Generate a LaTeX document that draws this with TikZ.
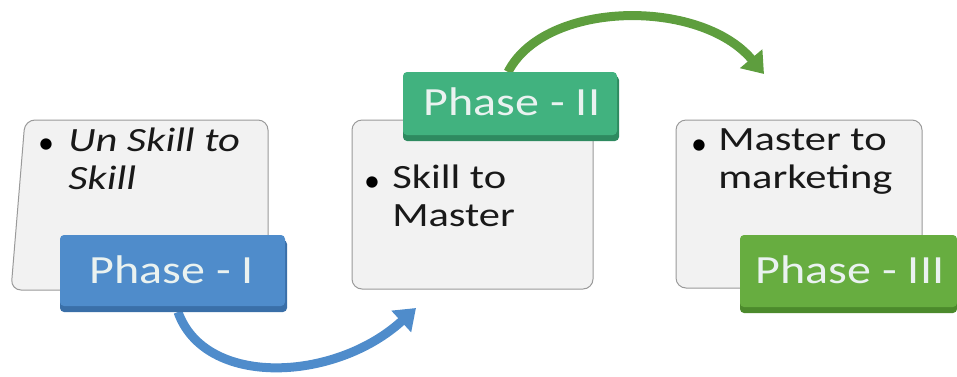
\documentclass[tikz,border=0pt]{standalone}
\usepackage{fontspec}
\setmainfont{Carlito}
\usetikzlibrary{arrows.meta}
\definecolor{pblue}{HTML}{4F8CCB}
\definecolor{pbluedk}{HTML}{3A6FA8}
\definecolor{pteal}{HTML}{41B27F}
\definecolor{ptealdk}{HTML}{2E8A60}
\definecolor{pgreen}{HTML}{67AD40}
\definecolor{pgreendk}{HTML}{4C8A2C}
\definecolor{parrow}{HTML}{5E9E3E}
\definecolor{boxfill}{HTML}{F2F2F2}
\definecolor{boxedge}{HTML}{9A9A9A}
\definecolor{ptext}{HTML}{EAF2F0}
\tikzset{
  card/.style={fill=boxfill, draw=boxedge, line width=1pt, rounded corners=10pt},
  phasetxt/.style={font=\fontsize{40}{44}\selectfont, text=ptext, inner sep=0pt, xscale=1.2},
  bodytxt/.style={font=\fontsize{34}{38}\selectfont, text=black!90, inner sep=0pt, align=left, anchor=north west, xscale=1.25},
  bul/.style={font=\fontsize{32}{32}\selectfont, text=black, inner sep=0pt},
  bigarrow/.style={line width=9pt, -{Triangle[length=20pt,width=28pt]}}
}
\begin{document}
\begin{tikzpicture}[x=1pt,y=-1pt]
\useasboundingbox (0,0) rectangle (957,376);
% card 1
\draw[card] (25,120) -- (268,120) -- (268,290) -- (11,290) -- cycle;
% connectors
\coordinate (a1s) at (178,312);
\coordinate (a1e) at (416,308);
\coordinate (a2s) at (508,72);
\coordinate (a2e) at (764,74);
\draw[bigarrow, draw=pblue] (a1s) .. controls (205,388) and (335,382) .. (a1e);
\draw[bigarrow, draw=parrow] (a2s) .. controls (545,0) and (700,-2) .. (a2e);
% card 2 and 3
\draw[card] (352,120) rectangle (593,289);
\draw[card] (676,120) rectangle (922,288);
% phase boxes
\fill[pbluedk, rounded corners=4pt] (60,240) rectangle (287,312);
\fill[pblue, rounded corners=4pt] (60,235) rectangle (285,306);
\node[phasetxt] (p1) at (172,270) {Phase - I};
\fill[ptealdk, rounded corners=4pt] (403,76) rectangle (619,141);
\fill[pteal, rounded corners=4pt] (403,72) rectangle (617,135);
\node[phasetxt] (p2) at (512,102) {Phase - II};
\fill[pgreendk, rounded corners=4pt] (740,240) rectangle (957,313);
\fill[pgreen, rounded corners=4pt] (740,235) rectangle (957,307);
\node[phasetxt] (p3) at (850,270) {Phase - III};
% bullets and texts
\node[bul] (b1) at (46,146) {•};
\node[bodytxt, font=\fontsize{34}{38}\selectfont\itshape] (t1) at (68,128) {Un Skill to\\Skill};
\node[bul] (b2) at (372,184) {•};
\node[bodytxt] (t2) at (392,165) {Skill to\\Master};
\node[bul] (b3) at (699,147) {•};
\node[bodytxt] (t3) at (718,128) {Master to\\marketing};
\end{tikzpicture}
\end{document}
